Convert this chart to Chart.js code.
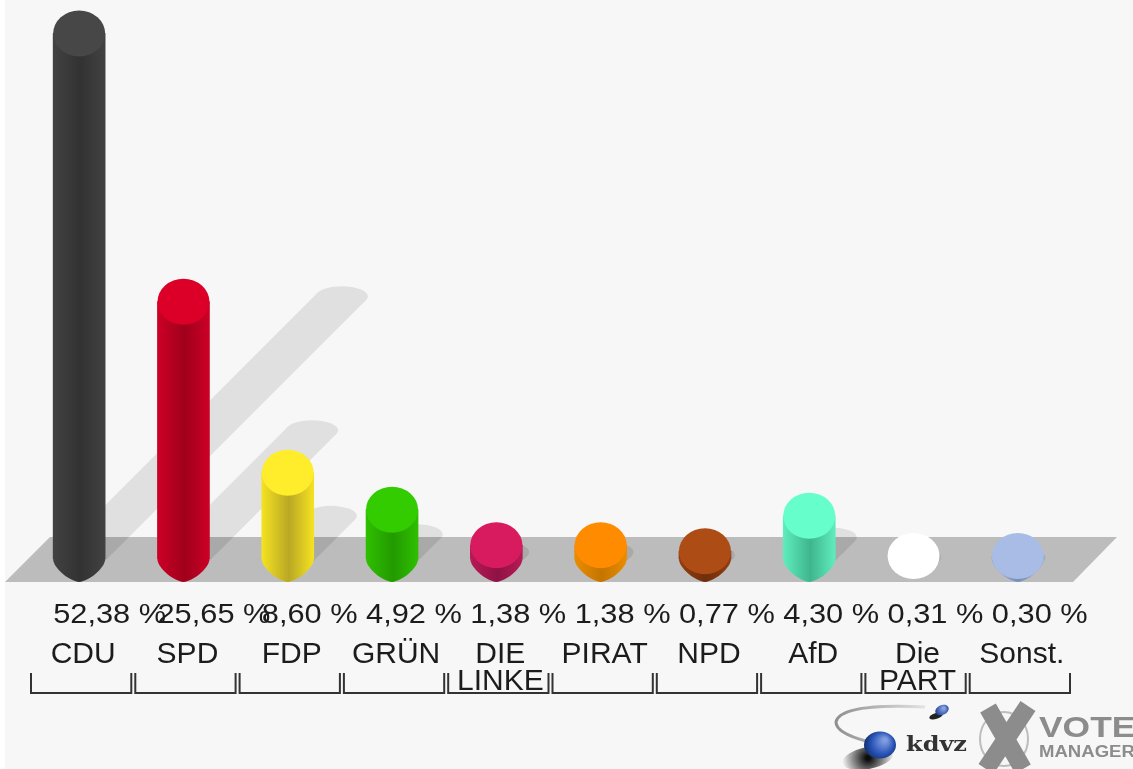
<!DOCTYPE html>
<html>
<head>
<meta charset="utf-8">
<title>Wahlergebnis</title>
<style>
  html, body { margin: 0; padding: 0; overflow: hidden; }
  body { background: linear-gradient(to right, #fff 5px, #f7f7f7 5px); width: 1133px; height: 769px; }
  canvas { display: block; filter: blur(0.5px); }
</style>
</head>
<body>
<canvas id="chart" width="1133" height="769"></canvas>
<script src="https://cdn.jsdelivr.net/npm/chart.js@4"></script>
<script>
const parties = ['CDU', 'SPD', 'FDP', 'GRÜN', ['DIE', 'LINKE'], 'PIRAT', 'NPD', 'AfD', ['Die', 'PART'], 'Sonst.'];
const shares = [52.38, 25.65, 8.60, 4.92, 1.38, 1.38, 0.77, 4.30, 0.31, 0.30];
const topColors = ['#474747', '#dc0028', '#ffec2b', '#33cc00', '#d81b5e', '#ff8c00', '#ad4c14', '#66ffcc', '#ffffff', '#a8bce6'];
const edgeColors = ['#424242', '#cc0026', '#f5e222', '#2fbf00', '#b81a55', '#ea8c00', '#943e10', '#5fedbd', 'rgba(255,255,255,0)', '#93a8d2'];
const coreColors = ['#323232', '#a0001c', '#b9a824', '#229a00', '#8e1245', '#c47500', '#6f2e0c', '#3fb58e', 'rgba(255,255,255,0)', '#7a8fb8'];

const capRadius = 23;
const floorColor = '#bcbcbc';

function sideFill(ctx, x, w, i) {
  const g = ctx.createLinearGradient(x - w / 2, 0, x + w / 2, 0);
  g.addColorStop(0, edgeColors[i]);
  g.addColorStop(0.52, coreColors[i]);
  g.addColorStop(1, edgeColors[i]);
  return g;
}

function floorPath(ctx) {
  ctx.beginPath();
  ctx.moveTo(5, 582);
  ctx.lineTo(1073, 582);
  ctx.lineTo(1117, 537);
  ctx.lineTo(50, 537);
  ctx.closePath();
}

// shadows lean 45 degrees to the right, half as long as the bar
function fillShadows(ctx, bars, color) {
  const a = 26, b = 10;
  const t = 1 / Math.sqrt(a * a + b * b);
  const dx = a * a * t, dy = b * b * t;
  ctx.fillStyle = color;
  bars.forEach(bar => {
    const len = (bar.base - bar.y) / 2;
    const ex = bar.x + len, ey = bar.base - len;
    ctx.beginPath();
    ctx.ellipse(bar.x, bar.base, a, b, 0, 0, Math.PI * 2);
    ctx.fill();
    ctx.beginPath();
    ctx.ellipse(ex, ey, a, b, 0, 0, Math.PI * 2);
    ctx.fill();
    ctx.beginPath();
    ctx.moveTo(bar.x + dx, bar.base + dy);
    ctx.lineTo(ex + dx, ey + dy);
    ctx.lineTo(ex - dx, ey - dy);
    ctx.lineTo(bar.x - dx, bar.base - dy);
    ctx.closePath();
    ctx.fill();
  });
}

function stretchedText(ctx, txt, x, y, font, sx, color) {
  ctx.save();
  ctx.translate(x, y);
  ctx.scale(sx, 1);
  ctx.font = font;
  ctx.fillStyle = color;
  ctx.textAlign = 'left';
  ctx.textBaseline = 'middle';
  ctx.fillText(txt, 0, 0);
  ctx.restore();
}

function drawLogos(ctx) {
  // kdvz swoosh
  let g = ctx.createLinearGradient(836, 0, 925, 0);
  g.addColorStop(0, '#8f8f8f');
  g.addColorStop(1, '#e2e2e2');
  ctx.strokeStyle = g;
  ctx.lineWidth = 3;
  ctx.beginPath();
  ctx.moveTo(925, 707);
  ctx.quadraticCurveTo(840, 703, 836, 722);
  ctx.quadraticCurveTo(836, 733, 866, 741);
  ctx.stroke();

  g = ctx.createRadialGradient(868, 758, 2, 868, 758, 26);
  g.addColorStop(0, 'rgba(0,0,0,0.95)');
  g.addColorStop(1, 'rgba(0,0,0,0)');
  ctx.fillStyle = g;
  ctx.beginPath();
  ctx.ellipse(868, 758, 26, 11, -0.2, 0, Math.PI * 2);
  ctx.fill();

  g = ctx.createRadialGradient(885, 740, 2, 881, 745, 17);
  g.addColorStop(0, '#7f9ce0');
  g.addColorStop(0.6, '#2a55b8');
  g.addColorStop(1, '#12306f');
  ctx.fillStyle = g;
  ctx.beginPath();
  ctx.ellipse(880, 745, 16, 13.5, 0, 0, Math.PI * 2);
  ctx.fill();

  ctx.fillStyle = '#222';
  ctx.beginPath();
  ctx.ellipse(936, 716, 7, 3, -0.3, 0, Math.PI * 2);
  ctx.fill();
  g = ctx.createRadialGradient(944, 708, 1, 942, 710, 7);
  g.addColorStop(0, '#8aa5e5');
  g.addColorStop(1, '#1c3f94');
  ctx.fillStyle = g;
  ctx.beginPath();
  ctx.ellipse(942, 710, 7, 5, -0.4, 0, Math.PI * 2);
  ctx.fill();

  stretchedText(ctx, 'kdvz', 906, 746, 'bold 20px "DejaVu Serif"', 1.2, '#333');

  // vote manager cross
  ctx.strokeStyle = '#bdbdbd';
  ctx.lineWidth = 2;
  ctx.beginPath();
  ctx.ellipse(1004, 739, 24, 27, 0, 0, Math.PI * 2);
  ctx.stroke();
  ctx.strokeStyle = '#8c8c8c';
  ctx.lineWidth = 18;
  ctx.beginPath();
  ctx.moveTo(988, 708);
  ctx.lineTo(1023, 769);
  ctx.moveTo(1028, 706);
  ctx.lineTo(986, 769);
  ctx.stroke();

  stretchedText(ctx, 'VOTE', 1039, 729, 'bold 30px "Liberation Sans"', 1.18, '#8c8c8c');
  stretchedText(ctx, 'MANAGER', 1039, 753, 'bold 16px "Liberation Sans"', 1.16, '#8c8c8c');
}

const cylinderPlugin = {
  id: 'cylinders',
  beforeDatasetsDraw(chart) {
    const ctx = chart.ctx;
    const bars = chart.getDatasetMeta(0).data;
    ctx.save();
    fillShadows(ctx, bars, '#e0e0e0');
    floorPath(ctx);
    ctx.fillStyle = floorColor;
    ctx.fill();
    floorPath(ctx);
    ctx.clip();
    fillShadows(ctx, bars, '#a9a9a9');
    ctx.restore();
  },
  afterDatasetsDraw(chart) {
    const ctx = chart.ctx;
    chart.getDatasetMeta(0).data.forEach((bar, i) => {
      const hw = bar.width / 2;
      // lower end comes to a soft point, not a true ellipse
      ctx.fillStyle = sideFill(ctx, bar.x, bar.width, i);
      ctx.beginPath();
      ctx.moveTo(bar.x - hw, bar.base);
      ctx.bezierCurveTo(bar.x - hw, bar.base + 9, bar.x - 10, bar.base + 22, bar.x, bar.base + capRadius);
      ctx.bezierCurveTo(bar.x + 10, bar.base + 22, bar.x + hw, bar.base + 9, bar.x + hw, bar.base);
      ctx.closePath();
      ctx.fill();
      ctx.fillStyle = topColors[i];
      ctx.beginPath();
      ctx.ellipse(bar.x, bar.y, hw, capRadius, 0, 0, Math.PI * 2);
      ctx.fill();
    });
  },
  afterDraw(chart) {
    const ctx = chart.ctx;
    const xs = chart.scales.x;
    const band = xs.getPixelForValue(1) - xs.getPixelForValue(0);
    chart.getDatasetMeta(0).data.forEach((bar, i) => {
      const label = shares[i].toFixed(2).replace('.', ',') + ' %';
      stretchedText(ctx, label, bar.x - 26, 615, '28px "Liberation Sans"', 1.1, '#1c1c1c');
      // bracket under each party
      const l = xs.getPixelForValue(i) - band / 2 + 4;
      const r = xs.getPixelForValue(i) + band / 2;
      ctx.strokeStyle = '#333';
      ctx.lineWidth = 2;
      ctx.beginPath();
      ctx.moveTo(l, 673);
      ctx.lineTo(l, 693);
      ctx.lineTo(r, 693);
      ctx.lineTo(r, 673);
      ctx.stroke();
    });
    drawLogos(ctx);
  }
};

new Chart(document.getElementById('chart'), {
  type: 'bar',
  data: {
    labels: parties,
    datasets: [{
      data: shares,
      barThickness: 52,
      borderWidth: 0,
      backgroundColor: c => {
        const bar = c.chart.getDatasetMeta(0).data[c.dataIndex];
        if (!bar || !c.chart.chartArea) return edgeColors[c.dataIndex];
        const xs = c.chart.scales.x;
        return sideFill(c.chart.ctx, xs.getPixelForValue(c.dataIndex), 52, c.dataIndex);
      }
    }]
  },
  options: {
    responsive: false,
    animation: false,
    layout: { padding: { left: 27, right: 63, top: 0, bottom: 0 } },
    plugins: { legend: { display: false }, tooltip: { enabled: false } },
    scales: {
      y: { display: false, min: 0, max: 55.73 },
      x: {
        afterFit: scale => {
          scale.height = 210;
          scale.paddingLeft = 0;
          scale.paddingRight = 0;
        },
        border: { display: false },
        grid: { display: false, drawTicks: false },
        ticks: {
          padding: 82,
          labelOffset: 4,
          autoSkip: false,
          maxRotation: 0,
          color: '#1c1c1c',
          font: { family: '"Liberation Sans"', size: 30, lineHeight: 0.9 }
        }
      }
    }
  },
  plugins: [cylinderPlugin]
});
</script>
</body>
</html>
